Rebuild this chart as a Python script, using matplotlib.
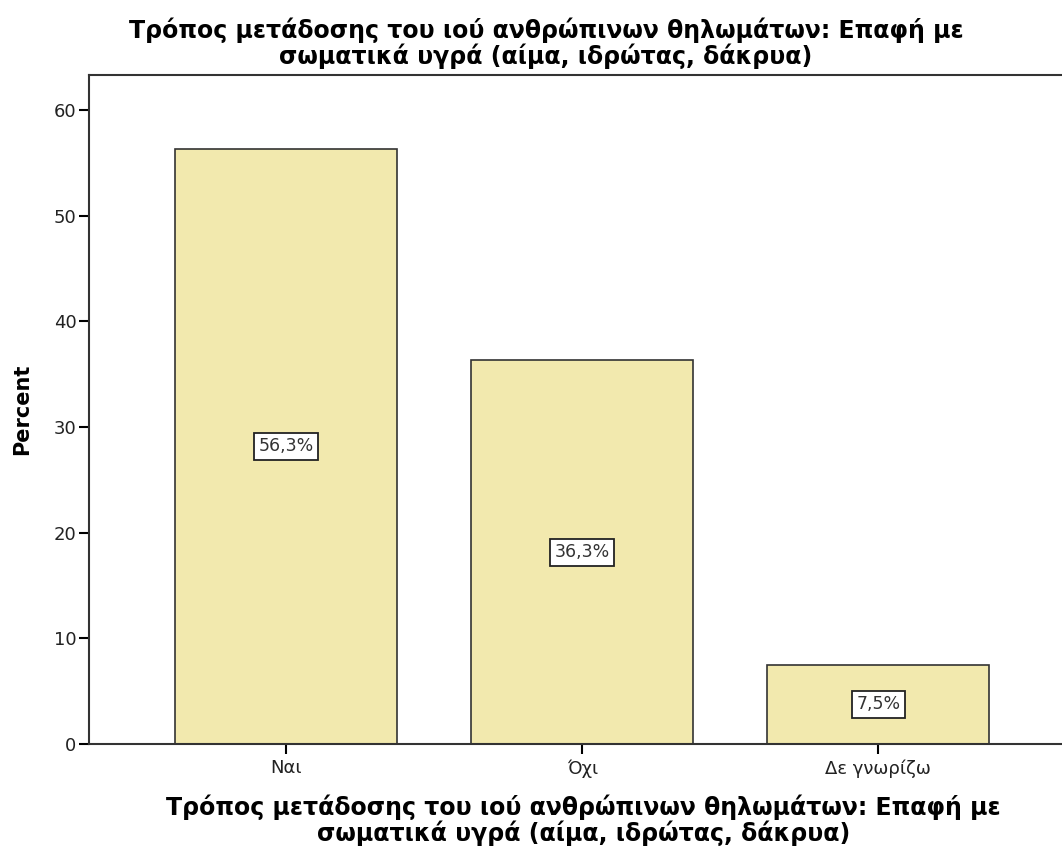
import matplotlib
matplotlib.use('Agg')
import matplotlib.pyplot as plt

# Δεδομένα
categories = ['Ναι', 'Όχι', 'Δε γνωρίζω']
percent = [56.3, 36.3, 7.5]
labels = ['56,3%', '36,3%', '7,5%']
title = 'Τρόπος μετάδοσης του ιού ανθρώπινων θηλωμάτων: Επαφή με\nσωματικά υγρά (αίμα, ιδρώτας, δάκρυα)'

plt.rcParams['font.family'] = ['DejaVu Sans']

fig = plt.figure(figsize=(10.62, 8.48), dpi=100)
ax = fig.add_axes([0.0838, 0.1226, 0.9162, 0.789])

x = range(len(categories))
ax.bar(x, percent, width=0.75, color='#F2E9AE', edgecolor='#333333', linewidth=1.2)

for i, (v, lab) in enumerate(zip(percent, labels)):
    ax.text(i, v / 2, lab, ha='center', va='center', fontsize=12.5, color='#333333',
            bbox=dict(boxstyle='square,pad=0.25', facecolor='white', edgecolor='#222222', linewidth=1.3))

ax.set_xlim(-0.666, 2.62)
ax.set_ylim(0, 63.3)
ax.set_yticks([0, 10, 20, 30, 40, 50, 60])
ax.set_xticks(list(x))
ax.set_xticklabels(categories, fontsize=13, color='#222222')
ax.tick_params(axis='y', labelsize=13, labelcolor='#222222', length=7, width=1.5, direction='out', pad=2)
ax.tick_params(axis='x', length=7, width=1.5, direction='out', pad=4)

for s in ['left', 'bottom', 'top', 'right']:
    ax.spines[s].set_color('#333333')
    ax.spines[s].set_linewidth(1.5)
ax.spines['right'].set_visible(False)

ax.set_ylabel('Percent', fontsize=15, fontweight='bold')
ax.yaxis.set_label_coords(-0.058, 0.5)
ax.set_xlabel(title, fontsize=17, fontweight='bold', linespacing=1.05)
ax.xaxis.set_label_coords(0.508, -0.075)
fig.text(0.514, 0.949, title, ha='center', va='center', fontsize=17, fontweight='bold', linespacing=1.05)

fig.savefig('out.png', dpi=100)
